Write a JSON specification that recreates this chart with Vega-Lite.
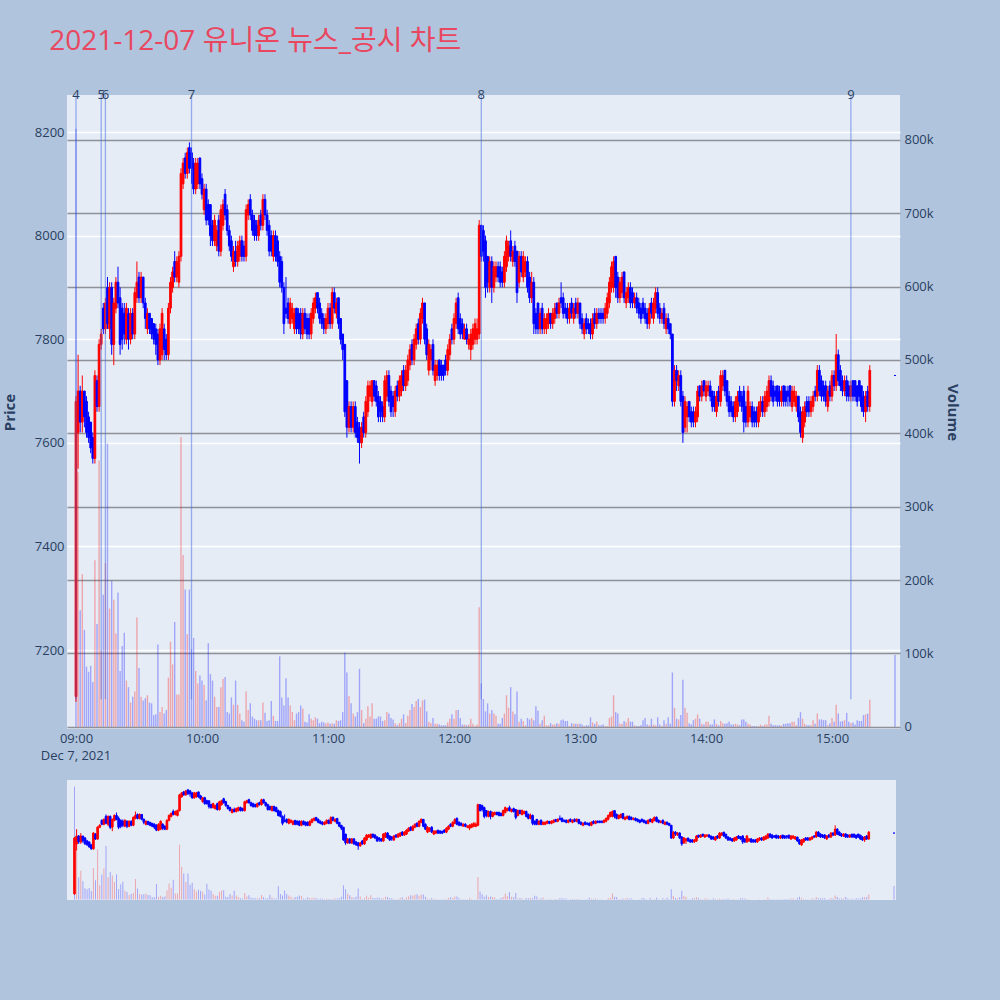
{
"$schema":"https://vega.github.io/schema/vega-lite/v6.json",
"background":"#b0c4de",
"padding":{"left":2,"top":28,"right":40,"bottom":100},
"title":{"text":"2021-12-07 유니온 뉴스_공시 차트","anchor":"start","fontSize":28,"fontWeight":"normal","color":"#e8475f","font":"Open Sans, Noto Sans CJK KR","offset":33,"dx":47},
"config":{"font":"Open Sans","view":{"fill":"#e5ecf6","stroke":null},"axis":{"labelFont":"Open Sans","labelColor":"#2a3f5f","labelFontSize":13,"titleColor":"#2a3f5f","titleFont":"Open Sans","titleFontSize":15,"titleFontWeight":"bold","domain":false,"ticks":false}},
"data":{"format":{"parse":{"t":"date:'%H:%M'"}},"values":[
{"t":"09:00","o":7110,"h":7690,"l":7100,"c":7680,"v":815},
{"t":"09:01","o":7620,"h":7770,"l":7550,"c":7700,"v":347},
{"t":"09:02","o":7700,"h":7710,"l":7620,"c":7640,"v":159},
{"t":"09:03","o":7640,"h":7730,"l":7620,"c":7700,"v":208},
{"t":"09:04","o":7700,"h":7700,"l":7630,"c":7650,"v":132},
{"t":"09:05","o":7680,"h":7690,"l":7610,"c":7620,"v":82},
{"t":"09:06","o":7650,"h":7660,"l":7600,"c":7610,"v":75},
{"t":"09:07","o":7640,"h":7640,"l":7580,"c":7590,"v":83},
{"t":"09:08","o":7610,"h":7620,"l":7560,"c":7570,"v":61},
{"t":"09:09","o":7570,"h":7740,"l":7560,"c":7730,"v":227},
{"t":"09:10","o":7720,"h":7730,"l":7660,"c":7670,"v":140},
{"t":"09:11","o":7670,"h":7800,"l":7660,"c":7790,"v":363},
{"t":"09:12","o":7790,"h":7820,"l":7780,"c":7810,"v":104},
{"t":"09:13","o":7860,"h":7870,"l":7810,"c":7820,"v":180},
{"t":"09:14","o":7820,"h":7880,"l":7810,"c":7870,"v":223},
{"t":"09:15","o":7900,"h":7920,"l":7820,"c":7830,"v":386},
{"t":"09:16","o":7820,"h":7910,"l":7800,"c":7900,"v":161},
{"t":"09:17","o":7900,"h":7910,"l":7770,"c":7790,"v":199},
{"t":"09:18","o":7790,"h":7880,"l":7750,"c":7870,"v":173},
{"t":"09:19","o":7860,"h":7920,"l":7850,"c":7910,"v":127},
{"t":"09:20","o":7910,"h":7940,"l":7860,"c":7870,"v":183},
{"t":"09:21","o":7880,"h":7900,"l":7770,"c":7790,"v":76},
{"t":"09:22","o":7860,"h":7870,"l":7780,"c":7800,"v":110},
{"t":"09:23","o":7850,"h":7870,"l":7790,"c":7810,"v":128},
{"t":"09:24","o":7800,"h":7870,"l":7790,"c":7860,"v":63},
{"t":"09:25","o":7850,"h":7860,"l":7780,"c":7800,"v":54},
{"t":"09:26","o":7800,"h":7860,"l":7790,"c":7850,"v":33},
{"t":"09:27","o":7850,"h":7860,"l":7800,"c":7810,"v":41},
{"t":"09:28","o":7810,"h":7900,"l":7800,"c":7890,"v":48},
{"t":"09:29","o":7880,"h":7950,"l":7870,"c":7910,"v":149},
{"t":"09:30","o":7920,"h":7930,"l":7870,"c":7880,"v":80},
{"t":"09:31","o":7880,"h":7930,"l":7870,"c":7920,"v":41},
{"t":"09:32","o":7920,"h":7920,"l":7860,"c":7870,"v":36},
{"t":"09:33","o":7870,"h":7880,"l":7820,"c":7840,"v":39},
{"t":"09:34","o":7820,"h":7860,"l":7810,"c":7850,"v":43},
{"t":"09:35","o":7850,"h":7850,"l":7810,"c":7820,"v":33},
{"t":"09:36","o":7840,"h":7840,"l":7800,"c":7810,"v":32},
{"t":"09:37","o":7830,"h":7830,"l":7790,"c":7800,"v":16},
{"t":"09:38","o":7820,"h":7830,"l":7770,"c":7790,"v":17},
{"t":"09:39","o":7810,"h":7820,"l":7750,"c":7760,"v":112},
{"t":"09:40","o":7760,"h":7830,"l":7750,"c":7820,"v":20},
{"t":"09:41","o":7770,"h":7860,"l":7760,"c":7850,"v":27},
{"t":"09:42","o":7820,"h":7830,"l":7760,"c":7780,"v":18},
{"t":"09:43","o":7800,"h":7810,"l":7760,"c":7770,"v":23},
{"t":"09:44","o":7770,"h":7870,"l":7760,"c":7860,"v":67},
{"t":"09:45","o":7860,"h":7920,"l":7850,"c":7910,"v":116},
{"t":"09:46","o":7900,"h":7940,"l":7890,"c":7930,"v":85},
{"t":"09:47","o":7950,"h":7970,"l":7910,"c":7920,"v":143},
{"t":"09:48","o":7920,"h":7960,"l":7910,"c":7950,"v":44},
{"t":"09:49","o":7910,"h":7970,"l":7900,"c":7960,"v":44},
{"t":"09:50","o":7960,"h":8130,"l":7950,"c":8120,"v":395},
{"t":"09:51","o":8100,"h":8150,"l":8090,"c":8140,"v":234},
{"t":"09:52","o":8150,"h":8160,"l":8110,"c":8120,"v":187},
{"t":"09:53","o":8120,"h":8170,"l":8110,"c":8160,"v":126},
{"t":"09:54","o":8170,"h":8180,"l":8120,"c":8130,"v":187},
{"t":"09:55","o":8160,"h":8170,"l":8100,"c":8130,"v":106},
{"t":"09:56","o":8140,"h":8150,"l":8080,"c":8090,"v":121},
{"t":"09:57","o":8090,"h":8150,"l":8080,"c":8140,"v":76},
{"t":"09:58","o":8100,"h":8150,"l":8090,"c":8140,"v":59},
{"t":"09:59","o":8150,"h":8150,"l":8090,"c":8100,"v":70},
{"t":"10:00","o":8110,"h":8120,"l":8070,"c":8080,"v":63},
{"t":"10:01","o":8050,"h":8100,"l":8040,"c":8090,"v":57},
{"t":"10:02","o":8090,"h":8100,"l":8020,"c":8030,"v":36},
{"t":"10:03","o":8060,"h":8070,"l":8020,"c":8030,"v":114},
{"t":"10:04","o":8060,"h":8060,"l":7980,"c":8000,"v":72},
{"t":"10:05","o":8020,"h":8030,"l":7980,"c":7990,"v":63},
{"t":"10:06","o":7990,"h":8040,"l":7980,"c":8030,"v":41},
{"t":"10:07","o":7980,"h":8020,"l":7970,"c":8010,"v":27},
{"t":"10:08","o":8030,"h":8040,"l":7960,"c":7970,"v":27},
{"t":"10:09","o":7970,"h":8060,"l":7960,"c":8050,"v":54},
{"t":"10:10","o":8020,"h":8070,"l":8010,"c":8060,"v":65},
{"t":"10:11","o":8080,"h":8090,"l":8030,"c":8040,"v":68},
{"t":"10:12","o":8050,"h":8060,"l":8000,"c":8010,"v":20},
{"t":"10:13","o":8010,"h":8020,"l":7970,"c":7980,"v":18},
{"t":"10:14","o":7990,"h":8000,"l":7950,"c":7960,"v":40},
{"t":"10:15","o":7940,"h":7980,"l":7930,"c":7970,"v":30},
{"t":"10:16","o":7970,"h":7990,"l":7940,"c":7950,"v":63},
{"t":"10:17","o":7950,"h":7990,"l":7940,"c":7980,"v":30},
{"t":"10:18","o":7960,"h":8000,"l":7950,"c":7990,"v":18},
{"t":"10:19","o":7990,"h":8000,"l":7950,"c":7960,"v":9},
{"t":"10:20","o":7980,"h":7990,"l":7950,"c":7960,"v":7},
{"t":"10:21","o":7960,"h":8060,"l":7950,"c":8050,"v":48},
{"t":"10:22","o":8040,"h":8070,"l":8030,"c":8060,"v":23},
{"t":"10:23","o":8070,"h":8080,"l":8030,"c":8040,"v":32},
{"t":"10:24","o":8040,"h":8050,"l":8000,"c":8010,"v":14},
{"t":"10:25","o":8030,"h":8040,"l":7990,"c":8000,"v":11},
{"t":"10:26","o":8020,"h":8030,"l":7990,"c":8000,"v":9},
{"t":"10:27","o":8000,"h":8040,"l":7990,"c":8030,"v":9},
{"t":"10:28","o":8040,"h":8050,"l":8010,"c":8020,"v":9},
{"t":"10:29","o":8020,"h":8080,"l":8010,"c":8070,"v":33},
{"t":"10:30","o":8070,"h":8080,"l":8030,"c":8040,"v":19},
{"t":"10:31","o":8040,"h":8050,"l":8000,"c":8010,"v":8},
{"t":"10:32","o":8020,"h":8030,"l":7960,"c":7970,"v":9},
{"t":"10:33","o":8000,"h":8010,"l":7960,"c":7970,"v":35},
{"t":"10:34","o":7960,"h":8010,"l":7950,"c":8000,"v":15},
{"t":"10:35","o":8000,"h":8010,"l":7950,"c":7960,"v":8},
{"t":"10:36","o":7990,"h":8000,"l":7940,"c":7950,"v":8},
{"t":"10:37","o":7960,"h":7970,"l":7900,"c":7910,"v":96},
{"t":"10:38","o":7950,"h":7960,"l":7890,"c":7900,"v":40},
{"t":"10:39","o":7900,"h":7910,"l":7810,"c":7830,"v":29},
{"t":"10:40","o":7860,"h":7920,"l":7840,"c":7850,"v":66},
{"t":"10:41","o":7870,"h":7880,"l":7830,"c":7840,"v":40},
{"t":"10:42","o":7830,"h":7880,"l":7820,"c":7870,"v":29},
{"t":"10:43","o":7840,"h":7870,"l":7830,"c":7860,"v":20},
{"t":"10:44","o":7820,"h":7860,"l":7810,"c":7850,"v":9},
{"t":"10:45","o":7860,"h":7860,"l":7810,"c":7820,"v":18},
{"t":"10:46","o":7850,"h":7860,"l":7810,"c":7820,"v":20},
{"t":"10:47","o":7850,"h":7860,"l":7800,"c":7810,"v":29},
{"t":"10:48","o":7810,"h":7860,"l":7800,"c":7850,"v":25},
{"t":"10:49","o":7850,"h":7860,"l":7810,"c":7820,"v":7},
{"t":"10:50","o":7840,"h":7850,"l":7800,"c":7810,"v":6},
{"t":"10:51","o":7840,"h":7850,"l":7800,"c":7810,"v":17},
{"t":"10:52","o":7810,"h":7860,"l":7800,"c":7850,"v":11},
{"t":"10:53","o":7840,"h":7880,"l":7830,"c":7870,"v":9},
{"t":"10:54","o":7860,"h":7890,"l":7850,"c":7880,"v":13},
{"t":"10:55","o":7890,"h":7890,"l":7850,"c":7860,"v":11},
{"t":"10:56","o":7870,"h":7880,"l":7830,"c":7840,"v":5},
{"t":"10:57","o":7850,"h":7860,"l":7820,"c":7830,"v":7},
{"t":"10:58","o":7840,"h":7850,"l":7810,"c":7820,"v":6},
{"t":"10:59","o":7820,"h":7850,"l":7810,"c":7840,"v":5},
{"t":"11:00","o":7830,"h":7870,"l":7820,"c":7860,"v":6},
{"t":"11:01","o":7860,"h":7870,"l":7820,"c":7830,"v":4},
{"t":"11:02","o":7830,"h":7900,"l":7820,"c":7890,"v":5},
{"t":"11:03","o":7890,"h":7900,"l":7850,"c":7860,"v":4},
{"t":"11:04","o":7850,"h":7880,"l":7840,"c":7870,"v":9},
{"t":"11:05","o":7880,"h":7880,"l":7820,"c":7830,"v":8},
{"t":"11:06","o":7840,"h":7840,"l":7790,"c":7800,"v":9},
{"t":"11:07","o":7810,"h":7810,"l":7760,"c":7780,"v":20},
{"t":"11:08","o":7790,"h":7790,"l":7650,"c":7660,"v":101},
{"t":"11:09","o":7720,"h":7720,"l":7610,"c":7630,"v":74},
{"t":"11:10","o":7630,"h":7680,"l":7620,"c":7670,"v":42},
{"t":"11:11","o":7670,"h":7680,"l":7620,"c":7630,"v":32},
{"t":"11:12","o":7630,"h":7680,"l":7620,"c":7670,"v":18},
{"t":"11:13","o":7670,"h":7680,"l":7610,"c":7620,"v":14},
{"t":"11:14","o":7640,"h":7650,"l":7600,"c":7610,"v":20},
{"t":"11:15","o":7630,"h":7640,"l":7560,"c":7600,"v":79},
{"t":"11:16","o":7600,"h":7640,"l":7590,"c":7630,"v":23},
{"t":"11:17","o":7650,"h":7660,"l":7610,"c":7620,"v":5},
{"t":"11:18","o":7620,"h":7690,"l":7610,"c":7680,"v":11},
{"t":"11:19","o":7660,"h":7720,"l":7650,"c":7710,"v":28},
{"t":"11:20","o":7690,"h":7720,"l":7680,"c":7710,"v":14},
{"t":"11:21","o":7680,"h":7720,"l":7670,"c":7720,"v":32},
{"t":"11:22","o":7720,"h":7720,"l":7680,"c":7690,"v":11},
{"t":"11:23","o":7710,"h":7720,"l":7670,"c":7680,"v":11},
{"t":"11:24","o":7690,"h":7700,"l":7640,"c":7650,"v":14},
{"t":"11:25","o":7680,"h":7690,"l":7640,"c":7660,"v":14},
{"t":"11:26","o":7670,"h":7680,"l":7640,"c":7650,"v":8},
{"t":"11:27","o":7650,"h":7730,"l":7640,"c":7720,"v":9},
{"t":"11:28","o":7690,"h":7740,"l":7680,"c":7730,"v":20},
{"t":"11:29","o":7730,"h":7740,"l":7670,"c":7680,"v":18},
{"t":"11:30","o":7700,"h":7710,"l":7650,"c":7660,"v":12},
{"t":"11:31","o":7690,"h":7700,"l":7650,"c":7670,"v":10},
{"t":"11:32","o":7660,"h":7710,"l":7650,"c":7700,"v":5},
{"t":"11:33","o":7710,"h":7720,"l":7680,"c":7690,"v":2},
{"t":"11:34","o":7690,"h":7730,"l":7680,"c":7720,"v":5},
{"t":"11:35","o":7700,"h":7740,"l":7690,"c":7730,"v":11},
{"t":"11:36","o":7740,"h":7750,"l":7700,"c":7710,"v":17},
{"t":"11:37","o":7710,"h":7750,"l":7700,"c":7740,"v":5},
{"t":"11:38","o":7720,"h":7770,"l":7710,"c":7760,"v":15},
{"t":"11:39","o":7750,"h":7790,"l":7740,"c":7780,"v":23},
{"t":"11:40","o":7790,"h":7800,"l":7750,"c":7760,"v":31},
{"t":"11:41","o":7760,"h":7810,"l":7750,"c":7800,"v":27},
{"t":"11:42","o":7790,"h":7830,"l":7780,"c":7820,"v":35},
{"t":"11:43","o":7830,"h":7840,"l":7790,"c":7800,"v":38},
{"t":"11:44","o":7800,"h":7860,"l":7790,"c":7850,"v":27},
{"t":"11:45","o":7840,"h":7880,"l":7830,"c":7870,"v":36},
{"t":"11:46","o":7870,"h":7870,"l":7790,"c":7800,"v":37},
{"t":"11:47","o":7820,"h":7830,"l":7760,"c":7770,"v":21},
{"t":"11:48","o":7740,"h":7800,"l":7730,"c":7790,"v":7},
{"t":"11:49","o":7760,"h":7790,"l":7740,"c":7780,"v":5},
{"t":"11:50","o":7790,"h":7800,"l":7730,"c":7740,"v":12},
{"t":"11:51","o":7720,"h":7760,"l":7710,"c":7750,"v":4},
{"t":"11:52","o":7730,"h":7760,"l":7720,"c":7750,"v":4},
{"t":"11:53","o":7760,"h":7760,"l":7720,"c":7730,"v":3},
{"t":"11:54","o":7750,"h":7760,"l":7720,"c":7730,"v":2},
{"t":"11:55","o":7750,"h":7750,"l":7720,"c":7730,"v":2},
{"t":"11:56","o":7760,"h":7770,"l":7730,"c":7740,"v":2},
{"t":"11:57","o":7740,"h":7790,"l":7730,"c":7780,"v":6},
{"t":"11:58","o":7770,"h":7810,"l":7760,"c":7800,"v":11},
{"t":"11:59","o":7820,"h":7830,"l":7790,"c":7800,"v":17},
{"t":"12:00","o":7800,"h":7850,"l":7790,"c":7840,"v":11},
{"t":"12:01","o":7830,"h":7880,"l":7820,"c":7870,"v":23},
{"t":"12:02","o":7880,"h":7890,"l":7810,"c":7820,"v":23},
{"t":"12:03","o":7840,"h":7850,"l":7800,"c":7810,"v":12},
{"t":"12:04","o":7830,"h":7840,"l":7800,"c":7810,"v":3},
{"t":"12:05","o":7800,"h":7830,"l":7800,"c":7820,"v":3},
{"t":"12:06","o":7820,"h":7830,"l":7790,"c":7800,"v":2},
{"t":"12:07","o":7790,"h":7810,"l":7780,"c":7800,"v":3},
{"t":"12:08","o":7780,"h":7820,"l":7760,"c":7810,"v":11},
{"t":"12:09","o":7790,"h":7830,"l":7780,"c":7820,"v":4},
{"t":"12:10","o":7800,"h":7840,"l":7790,"c":7830,"v":1},
{"t":"12:11","o":7800,"h":7840,"l":7790,"c":7820,"v":3},
{"t":"12:12","o":7810,"h":8030,"l":7800,"c":8020,"v":163},
{"t":"12:13","o":8020,"h":8020,"l":7950,"c":7960,"v":59},
{"t":"12:14","o":8010,"h":8020,"l":7950,"c":7970,"v":38},
{"t":"12:15","o":7990,"h":8000,"l":7880,"c":7900,"v":21},
{"t":"12:16","o":7960,"h":7960,"l":7890,"c":7910,"v":32},
{"t":"12:17","o":7900,"h":7960,"l":7890,"c":7950,"v":18},
{"t":"12:18","o":7950,"h":7960,"l":7870,"c":7900,"v":23},
{"t":"12:19","o":7900,"h":7950,"l":7890,"c":7940,"v":18},
{"t":"12:20","o":7920,"h":7950,"l":7910,"c":7940,"v":15},
{"t":"12:21","o":7940,"h":7950,"l":7910,"c":7920,"v":4},
{"t":"12:22","o":7940,"h":7950,"l":7900,"c":7910,"v":4},
{"t":"12:23","o":7930,"h":7940,"l":7900,"c":7910,"v":12},
{"t":"12:24","o":7910,"h":7970,"l":7900,"c":7960,"v":18},
{"t":"12:25","o":7940,"h":8000,"l":7930,"c":7990,"v":43},
{"t":"12:26","o":7960,"h":7990,"l":7950,"c":7980,"v":26},
{"t":"12:27","o":7990,"h":8010,"l":7950,"c":7960,"v":54},
{"t":"12:28","o":7950,"h":7980,"l":7940,"c":7970,"v":21},
{"t":"12:29","o":7980,"h":7990,"l":7940,"c":7950,"v":17},
{"t":"12:30","o":7970,"h":7970,"l":7870,"c":7890,"v":48},
{"t":"12:31","o":7910,"h":7970,"l":7900,"c":7960,"v":7},
{"t":"12:32","o":7960,"h":7970,"l":7920,"c":7930,"v":11},
{"t":"12:33","o":7920,"h":7970,"l":7910,"c":7960,"v":8},
{"t":"12:34","o":7930,"h":7960,"l":7920,"c":7950,"v":2},
{"t":"12:35","o":7950,"h":7960,"l":7890,"c":7900,"v":12},
{"t":"12:36","o":7920,"h":7930,"l":7870,"c":7880,"v":10},
{"t":"12:37","o":7880,"h":7930,"l":7870,"c":7910,"v":12},
{"t":"12:38","o":7910,"h":7920,"l":7810,"c":7830,"v":9},
{"t":"12:39","o":7850,"h":7860,"l":7810,"c":7820,"v":28},
{"t":"12:40","o":7870,"h":7870,"l":7810,"c":7820,"v":22},
{"t":"12:41","o":7820,"h":7860,"l":7810,"c":7850,"v":4},
{"t":"12:42","o":7860,"h":7870,"l":7810,"c":7820,"v":9},
{"t":"12:43","o":7820,"h":7850,"l":7810,"c":7840,"v":15},
{"t":"12:44","o":7820,"h":7850,"l":7810,"c":7840,"v":2},
{"t":"12:45","o":7830,"h":7860,"l":7820,"c":7850,"v":2},
{"t":"12:46","o":7850,"h":7850,"l":7820,"c":7830,"v":5},
{"t":"12:47","o":7830,"h":7860,"l":7820,"c":7850,"v":3},
{"t":"12:48","o":7840,"h":7870,"l":7830,"c":7860,"v":3},
{"t":"12:49","o":7870,"h":7870,"l":7840,"c":7850,"v":5},
{"t":"12:50","o":7850,"h":7880,"l":7840,"c":7870,"v":4},
{"t":"12:51","o":7880,"h":7910,"l":7860,"c":7870,"v":9},
{"t":"12:52","o":7880,"h":7890,"l":7840,"c":7850,"v":10},
{"t":"12:53","o":7860,"h":7870,"l":7840,"c":7850,"v":8},
{"t":"12:54","o":7860,"h":7870,"l":7830,"c":7840,"v":8},
{"t":"12:55","o":7840,"h":7870,"l":7830,"c":7860,"v":1},
{"t":"12:56","o":7870,"h":7880,"l":7840,"c":7850,"v":5},
{"t":"12:57","o":7840,"h":7870,"l":7830,"c":7860,"v":4},
{"t":"12:58","o":7870,"h":7880,"l":7840,"c":7850,"v":4},
{"t":"12:59","o":7850,"h":7880,"l":7840,"c":7870,"v":4},
{"t":"13:00","o":7870,"h":7870,"l":7820,"c":7830,"v":4},
{"t":"13:01","o":7840,"h":7850,"l":7810,"c":7820,"v":3},
{"t":"13:02","o":7810,"h":7840,"l":7800,"c":7830,"v":1},
{"t":"13:03","o":7840,"h":7850,"l":7810,"c":7820,"v":2},
{"t":"13:04","o":7830,"h":7840,"l":7810,"c":7820,"v":2},
{"t":"13:05","o":7830,"h":7840,"l":7800,"c":7810,"v":13},
{"t":"13:06","o":7810,"h":7850,"l":7800,"c":7840,"v":6},
{"t":"13:07","o":7850,"h":7860,"l":7820,"c":7830,"v":4},
{"t":"13:08","o":7830,"h":7860,"l":7820,"c":7850,"v":7},
{"t":"13:09","o":7850,"h":7860,"l":7830,"c":7840,"v":2},
{"t":"13:10","o":7850,"h":7860,"l":7830,"c":7840,"v":2},
{"t":"13:11","o":7850,"h":7860,"l":7830,"c":7840,"v":3},
{"t":"13:12","o":7840,"h":7870,"l":7830,"c":7860,"v":1},
{"t":"13:13","o":7850,"h":7890,"l":7840,"c":7880,"v":1},
{"t":"13:14","o":7870,"h":7920,"l":7860,"c":7910,"v":12},
{"t":"13:15","o":7900,"h":7950,"l":7890,"c":7940,"v":14},
{"t":"13:16","o":7900,"h":7960,"l":7890,"c":7950,"v":43},
{"t":"13:17","o":7960,"h":7960,"l":7880,"c":7900,"v":20},
{"t":"13:18","o":7920,"h":7930,"l":7870,"c":7880,"v":18},
{"t":"13:19","o":7880,"h":7920,"l":7870,"c":7910,"v":4},
{"t":"13:20","o":7890,"h":7930,"l":7880,"c":7920,"v":4},
{"t":"13:21","o":7930,"h":7930,"l":7870,"c":7880,"v":8},
{"t":"13:22","o":7870,"h":7900,"l":7860,"c":7890,"v":6},
{"t":"13:23","o":7880,"h":7910,"l":7870,"c":7900,"v":12},
{"t":"13:24","o":7900,"h":7910,"l":7860,"c":7870,"v":7},
{"t":"13:25","o":7890,"h":7900,"l":7860,"c":7870,"v":7},
{"t":"13:26","o":7870,"h":7890,"l":7860,"c":7880,"v":2},
{"t":"13:27","o":7880,"h":7890,"l":7850,"c":7860,"v":1},
{"t":"13:28","o":7870,"h":7880,"l":7840,"c":7850,"v":1},
{"t":"13:29","o":7860,"h":7870,"l":7830,"c":7840,"v":2},
{"t":"13:30","o":7870,"h":7880,"l":7840,"c":7850,"v":9},
{"t":"13:31","o":7860,"h":7870,"l":7830,"c":7840,"v":12},
{"t":"13:32","o":7850,"h":7860,"l":7820,"c":7830,"v":3},
{"t":"13:33","o":7830,"h":7870,"l":7820,"c":7860,"v":2},
{"t":"13:34","o":7870,"h":7880,"l":7840,"c":7850,"v":11},
{"t":"13:35","o":7840,"h":7880,"l":7830,"c":7870,"v":3},
{"t":"13:36","o":7860,"h":7900,"l":7850,"c":7890,"v":2},
{"t":"13:37","o":7890,"h":7900,"l":7840,"c":7850,"v":13},
{"t":"13:38","o":7860,"h":7870,"l":7830,"c":7840,"v":3},
{"t":"13:39","o":7840,"h":7860,"l":7830,"c":7850,"v":1},
{"t":"13:40","o":7860,"h":7870,"l":7820,"c":7830,"v":9},
{"t":"13:41","o":7820,"h":7850,"l":7810,"c":7840,"v":4},
{"t":"13:42","o":7840,"h":7850,"l":7810,"c":7820,"v":13},
{"t":"13:43","o":7830,"h":7830,"l":7800,"c":7810,"v":4},
{"t":"13:44","o":7810,"h":7810,"l":7670,"c":7680,"v":74},
{"t":"13:45","o":7680,"h":7750,"l":7670,"c":7740,"v":26},
{"t":"13:46","o":7740,"h":7750,"l":7700,"c":7720,"v":11},
{"t":"13:47","o":7710,"h":7740,"l":7700,"c":7730,"v":10},
{"t":"13:48","o":7730,"h":7740,"l":7670,"c":7680,"v":16},
{"t":"13:49","o":7690,"h":7700,"l":7600,"c":7620,"v":64},
{"t":"13:50","o":7630,"h":7690,"l":7620,"c":7680,"v":26},
{"t":"13:51","o":7650,"h":7680,"l":7620,"c":7670,"v":19},
{"t":"13:52","o":7680,"h":7680,"l":7640,"c":7650,"v":5},
{"t":"13:53","o":7660,"h":7670,"l":7630,"c":7640,"v":3},
{"t":"13:54","o":7660,"h":7670,"l":7630,"c":7640,"v":9},
{"t":"13:55","o":7640,"h":7670,"l":7630,"c":7660,"v":11},
{"t":"13:56","o":7650,"h":7710,"l":7640,"c":7700,"v":17},
{"t":"13:57","o":7710,"h":7710,"l":7680,"c":7690,"v":11},
{"t":"13:58","o":7690,"h":7720,"l":7680,"c":7710,"v":4},
{"t":"13:59","o":7720,"h":7720,"l":7690,"c":7700,"v":3},
{"t":"14:00","o":7690,"h":7720,"l":7680,"c":7710,"v":7},
{"t":"14:01","o":7700,"h":7720,"l":7690,"c":7710,"v":7},
{"t":"14:02","o":7710,"h":7720,"l":7680,"c":7690,"v":3},
{"t":"14:03","o":7700,"h":7700,"l":7660,"c":7670,"v":3},
{"t":"14:04","o":7690,"h":7700,"l":7660,"c":7670,"v":10},
{"t":"14:05","o":7660,"h":7700,"l":7650,"c":7690,"v":4},
{"t":"14:06","o":7700,"h":7710,"l":7670,"c":7680,"v":2},
{"t":"14:07","o":7680,"h":7740,"l":7670,"c":7730,"v":8},
{"t":"14:08","o":7710,"h":7740,"l":7700,"c":7730,"v":5},
{"t":"14:09","o":7740,"h":7740,"l":7690,"c":7700,"v":4},
{"t":"14:10","o":7720,"h":7720,"l":7670,"c":7680,"v":5},
{"t":"14:11","o":7690,"h":7700,"l":7650,"c":7660,"v":7},
{"t":"14:12","o":7680,"h":7690,"l":7650,"c":7660,"v":3},
{"t":"14:13","o":7670,"h":7680,"l":7640,"c":7650,"v":3},
{"t":"14:14","o":7650,"h":7690,"l":7640,"c":7680,"v":4},
{"t":"14:15","o":7660,"h":7700,"l":7650,"c":7690,"v":3},
{"t":"14:16","o":7700,"h":7710,"l":7670,"c":7680,"v":2},
{"t":"14:17","o":7690,"h":7700,"l":7660,"c":7670,"v":10},
{"t":"14:18","o":7700,"h":7710,"l":7620,"c":7640,"v":10},
{"t":"14:19","o":7670,"h":7680,"l":7630,"c":7640,"v":7},
{"t":"14:20","o":7640,"h":7710,"l":7630,"c":7700,"v":4},
{"t":"14:21","o":7650,"h":7680,"l":7640,"c":7670,"v":3},
{"t":"14:22","o":7670,"h":7680,"l":7630,"c":7640,"v":1},
{"t":"14:23","o":7660,"h":7670,"l":7630,"c":7640,"v":1},
{"t":"14:24","o":7660,"h":7670,"l":7630,"c":7640,"v":1},
{"t":"14:25","o":7640,"h":7680,"l":7630,"c":7670,"v":1},
{"t":"14:26","o":7660,"h":7690,"l":7650,"c":7680,"v":3},
{"t":"14:27","o":7680,"h":7690,"l":7650,"c":7660,"v":1},
{"t":"14:28","o":7660,"h":7700,"l":7650,"c":7690,"v":3},
{"t":"14:29","o":7670,"h":7710,"l":7660,"c":7700,"v":3},
{"t":"14:30","o":7680,"h":7730,"l":7670,"c":7720,"v":15},
{"t":"14:31","o":7720,"h":7730,"l":7680,"c":7690,"v":4},
{"t":"14:32","o":7710,"h":7720,"l":7670,"c":7680,"v":2},
{"t":"14:33","o":7700,"h":7710,"l":7680,"c":7690,"v":2},
{"t":"14:34","o":7710,"h":7710,"l":7670,"c":7680,"v":2},
{"t":"14:35","o":7700,"h":7710,"l":7670,"c":7680,"v":2},
{"t":"14:36","o":7680,"h":7710,"l":7670,"c":7700,"v":2},
{"t":"14:37","o":7710,"h":7710,"l":7670,"c":7680,"v":4},
{"t":"14:38","o":7700,"h":7710,"l":7670,"c":7680,"v":4},
{"t":"14:39","o":7700,"h":7710,"l":7670,"c":7690,"v":5},
{"t":"14:40","o":7710,"h":7710,"l":7670,"c":7680,"v":5},
{"t":"14:41","o":7670,"h":7710,"l":7660,"c":7700,"v":7},
{"t":"14:42","o":7680,"h":7710,"l":7670,"c":7700,"v":7},
{"t":"14:43","o":7670,"h":7700,"l":7660,"c":7690,"v":2},
{"t":"14:44","o":7690,"h":7690,"l":7640,"c":7650,"v":12},
{"t":"14:45","o":7660,"h":7670,"l":7610,"c":7620,"v":20},
{"t":"14:46","o":7610,"h":7670,"l":7600,"c":7660,"v":11},
{"t":"14:47","o":7640,"h":7680,"l":7630,"c":7670,"v":4},
{"t":"14:48","o":7680,"h":7690,"l":7650,"c":7660,"v":2},
{"t":"14:49","o":7680,"h":7690,"l":7650,"c":7660,"v":2},
{"t":"14:50","o":7660,"h":7690,"l":7650,"c":7680,"v":2},
{"t":"14:51","o":7670,"h":7700,"l":7660,"c":7690,"v":9},
{"t":"14:52","o":7700,"h":7710,"l":7680,"c":7690,"v":4},
{"t":"14:53","o":7690,"h":7750,"l":7680,"c":7740,"v":18},
{"t":"14:54","o":7740,"h":7750,"l":7690,"c":7700,"v":10},
{"t":"14:55","o":7720,"h":7730,"l":7680,"c":7690,"v":10},
{"t":"14:56","o":7710,"h":7720,"l":7680,"c":7690,"v":9},
{"t":"14:57","o":7710,"h":7720,"l":7670,"c":7680,"v":9},
{"t":"14:58","o":7670,"h":7710,"l":7660,"c":7700,"v":2},
{"t":"14:59","o":7710,"h":7720,"l":7680,"c":7690,"v":5},
{"t":"15:00","o":7690,"h":7740,"l":7680,"c":7730,"v":12},
{"t":"15:01","o":7730,"h":7740,"l":7700,"c":7710,"v":7},
{"t":"15:02","o":7710,"h":7810,"l":7700,"c":7770,"v":30},
{"t":"15:03","o":7770,"h":7780,"l":7710,"c":7720,"v":18},
{"t":"15:04","o":7740,"h":7750,"l":7700,"c":7710,"v":7},
{"t":"15:05","o":7720,"h":7730,"l":7690,"c":7700,"v":8},
{"t":"15:06","o":7700,"h":7730,"l":7690,"c":7720,"v":9},
{"t":"15:07","o":7720,"h":7730,"l":7680,"c":7690,"v":19},
{"t":"15:08","o":7710,"h":7720,"l":7680,"c":7690,"v":7},
{"t":"15:09","o":7690,"h":7720,"l":7680,"c":7710,"v":5},
{"t":"15:10","o":7720,"h":7720,"l":7680,"c":7690,"v":6},
{"t":"15:11","o":7720,"h":7720,"l":7680,"c":7690,"v":3},
{"t":"15:12","o":7710,"h":7710,"l":7670,"c":7680,"v":9},
{"t":"15:13","o":7720,"h":7720,"l":7680,"c":7690,"v":8},
{"t":"15:14","o":7710,"h":7710,"l":7660,"c":7670,"v":8},
{"t":"15:15","o":7690,"h":7700,"l":7650,"c":7660,"v":16},
{"t":"15:16","o":7660,"h":7700,"l":7640,"c":7690,"v":17},
{"t":"15:17","o":7700,"h":7710,"l":7660,"c":7670,"v":18},
{"t":"15:18","o":7670,"h":7750,"l":7660,"c":7740,"v":37},
{"t":"15:30","o":7730,"h":7730,"l":7730,"c":7730,"v":98}
]},
"spacing":17,
"vconcat":[
{
"width":833,"height":634,
"layer":[
{"mark":{"type":"bar","size":1.4,"opacity":0.3},
 "encoding":{
  "x":{"field":"t","type":"temporal","title":null,"scale":{"padding":0,"nice":false,"domain":[{"year":1900,"month":1,"date":1,"hours":8,"minutes":55,"seconds":43},{"year":1900,"month":1,"date":1,"hours":15,"minutes":32,"seconds":23}]},
   "axis":{"title":null,"grid":false,"format":"%H:%M","labelPadding":3,
    "values":[{"year":1900,"month":1,"date":1,"hours":9},{"year":1900,"month":1,"date":1,"hours":10},{"year":1900,"month":1,"date":1,"hours":11},{"year":1900,"month":1,"date":1,"hours":12},{"year":1900,"month":1,"date":1,"hours":13},{"year":1900,"month":1,"date":1,"hours":14},{"year":1900,"month":1,"date":1,"hours":15}]}},
  "y":{"field":"v","type":"quantitative","scale":{"domain":[-3,861],"nice":false,"zero":false},
   "axis":{"orient":"right","title":"Volume","values":[0,100,200,300,400,500,600,700,800],"labelExpr":"datum.value==0 ? '0' : datum.value+'k'","labelPadding":4,"titlePadding":11,"grid":true,"gridColor":"#8f9197","gridWidth":1.3}},
  "color":{"condition":[{"test":"datum.v>800","value":"#0000ff"},{"test":"datum.c>datum.o","value":"#ff0000"}],"value":"#0000ff"}
 }},
{"layer":[
 {"mark":{"type":"rule","strokeWidth":1},
  "encoding":{
   "x":{"field":"t","type":"temporal","title":null},
   "y":{"field":"l","type":"quantitative","scale":{"domain":[7047.5,8271.5],"nice":false,"zero":false},
    "axis":{"title":"Price","format":"d","values":[7200,7400,7600,7800,8000,8200],"grid":true,"gridColor":"#ffffff","gridWidth":1.3,"labelPadding":3,"titlePadding":17}},
   "y2":{"field":"h"},
   "color":{"condition":{"test":"datum.c>datum.o","value":"#ff0000"},"value":"#0000ff"}
  }},
 {"mark":{"type":"bar","size":1.7,"strokeWidth":1},
  "encoding":{
   "x":{"field":"t","type":"temporal","title":null},
   "y":{"field":"o","type":"quantitative","title":"Price"},
   "y2":{"field":"c"},
   "fill":{"condition":{"test":"datum.c>datum.o","value":"#ff0000"},"value":"#0000ff"},
   "stroke":{"condition":{"test":"datum.c>datum.o","value":"#ff0000"},"value":"#0000ff"}
  }},
 {"data":{"format":{"parse":{"t":"date:'%H:%M'"}},"values":[{"t":"09:00","n":"4"},{"t":"09:12","n":"5"},{"t":"09:14","n":"6"},{"t":"09:55","n":"7"},{"t":"12:13","n":"8"},{"t":"15:09","n":"9"}]},
  "layer":[
   {"mark":{"type":"rule","color":"#4169e1","opacity":0.5,"strokeWidth":1.3},
    "encoding":{"x":{"field":"t","type":"temporal","title":null},"y":{"datum":7105},"y2":{"datum":8271.5}}},
   {"mark":{"type":"text","fontSize":13,"color":"#2a3f5f","baseline":"middle"},
    "encoding":{"x":{"field":"t","type":"temporal","title":null},"y":{"datum":8271.5},"text":{"field":"n"}}}
  ]},
 {"data":{"format":{"parse":{"t":"date:'%H:%M'"}},"values":[{"t":"09:00","s":"Dec 7, 2021"}]},
  "mark":{"type":"text","fontSize":13,"color":"#2a3f5f","baseline":"middle","dy":27},
  "encoding":{"x":{"field":"t","type":"temporal","title":null},"y":{"datum":7047.5},"text":{"field":"s"}}}
]}
],
"resolve":{"scale":{"y":"independent"}}
},
{
"width":829,"height":120,
"layer":[
{"mark":{"type":"bar","size":1,"opacity":0.3},
 "encoding":{
  "x":{"field":"t","type":"temporal","axis":null,"scale":{"padding":0,"nice":false,"domain":[{"year":1900,"month":1,"date":1,"hours":8,"minutes":56,"seconds":26},{"year":1900,"month":1,"date":1,"hours":15,"minutes":30,"seconds":57}]}},
  "y":{"field":"v","type":"quantitative","axis":null,"scale":{"domain":[-3,861],"nice":false,"zero":false}},
  "color":{"condition":[{"test":"datum.v>800","value":"#0000ff"},{"test":"datum.c>datum.o","value":"#ff0000"}],"value":"#0000ff"}
 }},
{"layer":[
 {"mark":{"type":"rule","strokeWidth":1},
  "encoding":{
   "x":{"field":"t","type":"temporal","axis":null},
   "y":{"field":"l","type":"quantitative","axis":null,"scale":{"domain":[7047.5,8271.5],"nice":false,"zero":false}},
   "y2":{"field":"h"},
   "color":{"condition":{"test":"datum.c>datum.o","value":"#ff0000"},"value":"#0000ff"}
  }},
 {"mark":{"type":"bar","size":1.6,"strokeWidth":1},
  "encoding":{
   "x":{"field":"t","type":"temporal","axis":null},
   "y":{"field":"o","type":"quantitative","axis":null},
   "y2":{"field":"c"},
   "fill":{"condition":{"test":"datum.c>datum.o","value":"#ff0000"},"value":"#0000ff"},
   "stroke":{"condition":{"test":"datum.c>datum.o","value":"#ff0000"},"value":"#0000ff"}
  }}
]}
],
"resolve":{"scale":{"y":"independent"}}
}
],
"resolve":{"scale":{"x":"independent"}}
}
